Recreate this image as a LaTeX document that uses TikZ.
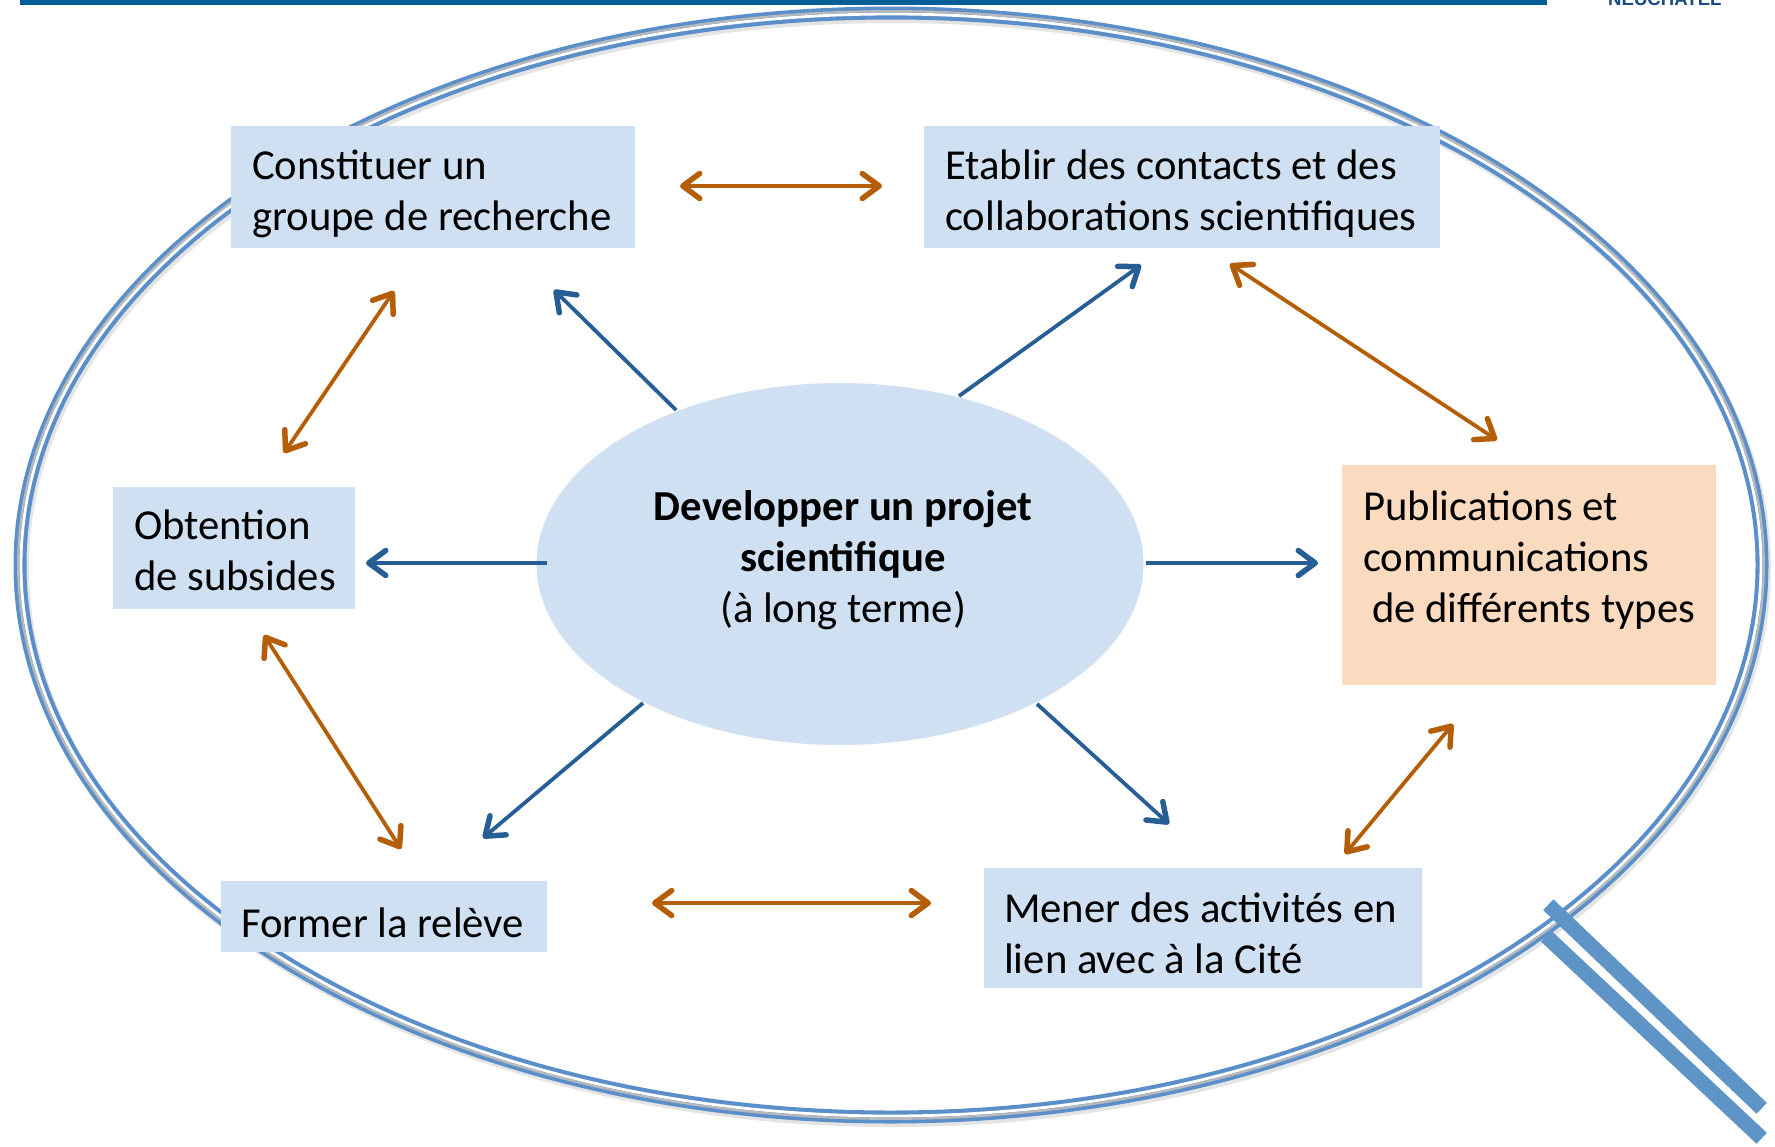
\documentclass[tikz,border=0pt]{standalone}
\usepackage{fontspec}
\setmainfont{Carlito}
\newfontfamily\logofont{Liberation Sans}
\usetikzlibrary{arrows.meta,calc,shapes.geometric}
\definecolor{topline}{RGB}{0,95,150}
\definecolor{logoblue}{RGB}{30,74,134}
\definecolor{ringblue}{RGB}{91,143,201}
\definecolor{handleblue}{RGB}{95,148,199}
\definecolor{boxblue}{RGB}{207,224,242}
\definecolor{boxorange}{RGB}{251,219,192}
\definecolor{arrowblue}{RGB}{40,94,150}
\definecolor{arrowor}{RGB}{180,95,8}
\tikzset{
  box/.style={fill=boxblue, inner sep=0pt, anchor=north west},
  txt/.style={inner sep=0pt, align=left, anchor=base west, font=\fontsize{42.7}{51}\selectfont},
  ctxt/.style={inner sep=0pt, align=center, anchor=base, font=\fontsize{42.7}{51}\selectfont},
  tipb/.tip={Straight Barb[length=17pt,width=25pt,line width=5.5pt,round]},
  blarrow/.style={draw=arrowblue, line width=3.8pt, -tipb},
  orarrow/.style={draw=arrowor, line width=3.8pt, tipb-tipb},
}
\begin{document}
\begin{tikzpicture}[x=1pt,y=-1pt]
\useasboundingbox (0,0) rectangle (1775,1146);
\fill[white] (0,0) rectangle (1775,1146);

% header line and logo
\fill[topline] (20,0) rectangle (1547,4.5);
\node[inner sep=0pt, anchor=base west, text=logoblue, font=\logofont\bfseries\fontsize{18.6}{20}\selectfont] (logo) at (1608,5) {NEUCHATEL};

% magnifier ring
\draw[black!30, line width=14pt, opacity=.35] (893,568) ellipse [x radius=871, y radius=552];
\draw[ringblue, line width=13pt] (891,565) ellipse [x radius=871, y radius=552];
\draw[gray!55, line width=2.2pt] (891,565) ellipse [x radius=872.8, y radius=553.8];
\draw[white, line width=2.8pt] (891,565) ellipse [x radius=870, y radius=551];

% handle
\draw[handleblue, line width=15pt] (1546,936) -- (1761.7,1138.3);
\draw[handleblue, line width=15pt] (1548.3,904.7) -- (1761.7,1108.3);

% central ellipse
\node[ellipse, fill=boxblue, inner sep=0pt, minimum width=607, minimum height=362] (core) at (840,564) {};
\node[ctxt] (coretxt) at (843,622) {\bfseries Developper un projet\\\bfseries scientifique\\(à long terme)};

% boxes
\node[box, minimum width=404, minimum height=122] (b1) at (231,126) {};
\node[txt] (t1) at (252,230) {Constituer un\\groupe de recherche};

\node[box, minimum width=516, minimum height=122] (b2) at (924,126) {};
\node[txt] (t2) at (945,230) {Etablir des contacts et des\\collaborations scientifiques};

\node[box, minimum width=242, minimum height=122] (b3) at (113,487) {};
\node[txt] (t3) at (134,590) {Obtention\\de subsides};

\node[box, fill=boxorange, minimum width=374, minimum height=220] (b4) at (1342,465) {};
\node[txt] (t4) at (1363,622) {Publications et\\communications\\\hspace*{9pt}de différents types};

\node[box, minimum width=326, minimum height=71] (b5) at (221,881) {};
\node[txt] (t5) at (241,937) {Former la relève};

\node[box, minimum width=438, minimum height=120] (b6) at (984,868) {};
\node[txt] (t6) at (1004,973) {Mener des activités en\\lien avec à la Cité};

% connector end points
\coordinate (a1s) at (676,410);  \coordinate (a1e) at (554,290);
\coordinate (a2s) at (959,396);  \coordinate (a2e) at (1141,265);
\coordinate (a3s) at (547,563);  \coordinate (a3e) at (366,563);
\coordinate (a4s) at (1146,563); \coordinate (a4e) at (1318,563);
\coordinate (a5s) at (643,703);  \coordinate (a5e) at (483,838);
\coordinate (a6s) at (1037,704); \coordinate (a6e) at (1169,824);

\coordinate (o1s) at (680,186);  \coordinate (o1e) at (882,186);
\coordinate (o2s) at (394,291);  \coordinate (o2e) at (284,453);
\coordinate (o3s) at (1230,264); \coordinate (o3e) at (1497,440);
\coordinate (o4s) at (264,635);  \coordinate (o4e) at (401,849);
\coordinate (o5s) at (652,903);  \coordinate (o5e) at (931,903);
\coordinate (o6s) at (1453,724); \coordinate (o6e) at (1345,854);

% blue arrows
\draw[blarrow] (a1s) -- (a1e);
\draw[blarrow] (a2s) -- (a2e);
\draw[blarrow] (a3s) -- (a3e);
\draw[blarrow] (a4s) -- (a4e);
\draw[blarrow] (a5s) -- (a5e);
\draw[blarrow] (a6s) -- (a6e);

% orange double arrows
\draw[orarrow] (o1s) -- (o1e);
\draw[orarrow] (o2s) -- (o2e);
\draw[orarrow] (o3s) -- (o3e);
\draw[orarrow] (o4s) -- (o4e);
\draw[orarrow] (o5s) -- (o5e);
\draw[orarrow] (o6s) -- (o6e);
\end{tikzpicture}
\end{document}
